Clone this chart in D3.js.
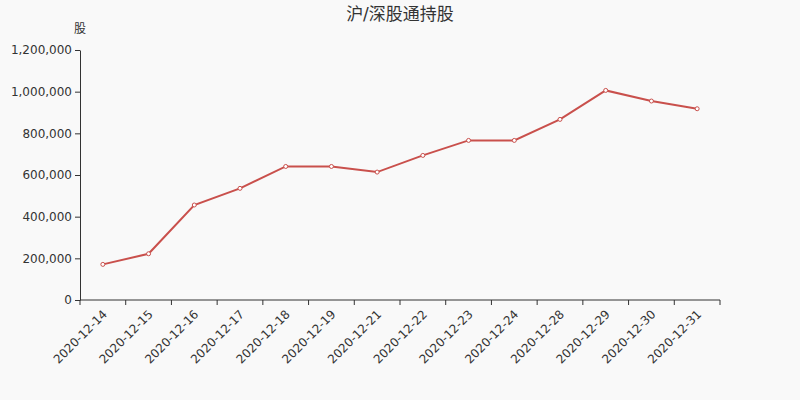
<!DOCTYPE html>
<html><head><meta charset="utf-8">
<script src="https://cdn.jsdelivr.net/npm/d3@7/dist/d3.min.js"></script>
<style>html,body{margin:0;padding:0;background:#f9f9f9;}svg{display:block;font-family:"DejaVu Sans","Noto Sans CJK SC",sans-serif;}</style>
</head><body>
<script>
const categories = ["2020-12-14","2020-12-15","2020-12-16","2020-12-17","2020-12-18","2020-12-19","2020-12-21","2020-12-22","2020-12-23","2020-12-24","2020-12-28","2020-12-29","2020-12-30","2020-12-31"];
const holdings = [171000,222000,456000,536000,641000,641000,614000,694000,766000,766000,867000,1006000,955000,918000];
const yTicks = [0,200000,400000,600000,800000,1000000,1200000];
const title = "沪/深股通持股";
const yUnit = "股";

const W=800,H=400,m={l:80,r:80,t:50,b:100};
const svg=d3.select("body").append("svg").attr("width",W).attr("height",H);
svg.append("rect").attr("width",W).attr("height",H).attr("fill","#f9f9f9");
const x=d3.scaleBand().domain(categories).range([m.l,W-m.r]);
const y=d3.scaleLinear().domain([0,1200000]).range([H-m.b,m.t]);
const fmt=d3.format(",");

svg.append("text").attr("x",400).attr("y",20).attr("text-anchor","middle").attr("font-size",17).attr("fill","#333").text(title);
svg.append("text").attr("x",80).attr("y",33).attr("text-anchor","middle").attr("font-size",12).attr("fill","#333").text(yUnit);

const ya=svg.append("g").attr("transform",`translate(${m.l},0)`).call(d3.axisLeft(y).tickValues(yTicks).tickFormat(fmt).tickSize(5).tickPadding(3).tickSizeOuter(0));
ya.selectAll("text").attr("font-size",12).attr("fill","#333").attr("font-family","DejaVu Sans");
ya.selectAll("line,path").attr("stroke","#333");

const xa=svg.append("g").attr("transform",`translate(0,${H-m.b})`);
xa.append("line").attr("x1",m.l).attr("x2",W-m.r).attr("stroke","#333");
const bounds=categories.map(c=>x(c)).concat([x(categories[categories.length-1])+x.bandwidth()]);
xa.selectAll("line.t").data(bounds).enter().append("line").attr("class","t").attr("x1",d=>d).attr("x2",d=>d).attr("y1",0).attr("y2",5).attr("stroke","#333");
xa.selectAll("text").data(categories).enter().append("text")
  .attr("transform",d=>`translate(${x(d)+x.bandwidth()/2+2},${12}) rotate(-45)`)
  .attr("text-anchor","end").attr("dy","0.35em").attr("font-size",12).attr("fill","#333").text(d=>d);

const cx=(d,i)=>x(categories[i])+x.bandwidth()/2;
const line=d3.line().x((d,i)=>cx(d,i)).y(d=>y(d));
svg.append("path").datum(holdings).attr("d",line).attr("fill","none").attr("stroke","#c9504c").attr("stroke-width",2);
svg.selectAll("circle").data(holdings).enter().append("circle").attr("cx",cx).attr("cy",d=>y(d)).attr("r",2).attr("fill","#fff").attr("stroke","#c9504c").attr("stroke-width",1);
</script>
</body></html>
